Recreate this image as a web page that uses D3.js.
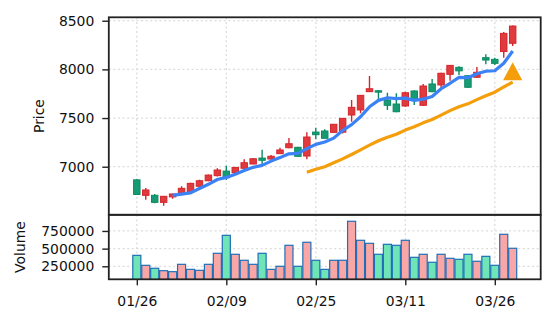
<!DOCTYPE html>
<html><head><meta charset="utf-8">
<script src="https://cdn.jsdelivr.net/npm/d3@7"></script>
<style>
html,body{margin:0;padding:0;background:#fff;}
svg{display:block;font-family:"DejaVu Sans",sans-serif;}
</style></head><body>
<svg id="chart" width="556" height="325"></svg>
<script>
// Daily trading sessions (holidays skipped)
const dates = ["2026-01-26","2026-01-27","2026-01-28","2026-01-29","2026-01-30",
  "2026-02-02","2026-02-03","2026-02-04","2026-02-05","2026-02-06",
  "2026-02-09","2026-02-10","2026-02-12","2026-02-13","2026-02-16",
  "2026-02-17","2026-02-18","2026-02-19","2026-02-20","2026-02-24",
  "2026-02-25","2026-02-26","2026-02-27","2026-03-02","2026-03-03",
  "2026-03-04","2026-03-05","2026-03-06","2026-03-09","2026-03-10",
  "2026-03-11","2026-03-12","2026-03-13","2026-03-16","2026-03-17",
  "2026-03-18","2026-03-19","2026-03-23","2026-03-24","2026-03-25",
  "2026-03-26","2026-03-27","2026-03-30"];
const opens  = [6865,6706,6706,6634,6690,6727,6743,6799,6856,6908,
  6955,6938,6984,7028,7089,7079,7134,7195,7199,7110,
  7356,7367,7353,7355,7531,7583,7771,7780,7685,7644,
  7624,7778,7631,7850,7840,7949,8021,7935,7919,8120,
  8103,8183,8268];
const highs  = [6870,6781,6720,6700,6722,6800,6835,6866,6920,6984,
  7010,6998,7076,7088,7175,7120,7195,7295,7205,7353,
  7400,7384,7440,7500,7685,7736,7932,7788,7760,7754,
  7770,7785,7850,7901,7965,8045,8031,7940,8025,8155,
  8120,8384,8450];
const lows   = [6710,6661,6625,6600,6672,6720,6738,6795,6850,6900,
  6863,6925,6980,7025,7028,7075,7130,7190,7100,7076,
  7281,7290,7350,7340,7462,7549,7771,7690,7582,7560,
  7615,7635,7625,7765,7805,7884,7941,7810,7915,8052,
  8045,8120,8240];
const closes = [6715,6761,6634,6696,6720,6778,6829,6856,6914,6966,
  6887,6993,7041,7082,7066,7107,7172,7236,7107,7305,
  7329,7292,7436,7497,7610,7733,7801,7766,7631,7565,
  7760,7685,7829,7771,7960,8041,7985,7816,7970,8096,
  8062,8370,8445];
const volumes = [405000,264000,222000,188000,174000,278000,207000,193000,278000,434000,
  688000,420000,335000,278000,434000,207000,250000,547000,250000,590000,
  335000,207000,335000,335000,887000,618000,575000,420000,561000,547000,
  618000,377000,420000,307000,420000,363000,349000,420000,321000,391000,
  264000,703000,505000];
// Signal marker (session index, price level)
const signalIdx = [42];
const signalPrice = [7980];
// Moving-average windows
const maWindows = [5, 20];
const priceTicks = [7000, 7500, 8000, 8500];
const volumeTicks = [250000, 500000, 750000];
const dateTickIdx = [0, 10, 20, 30, 40];

const n = dates.length;
const svg = d3.select("#chart");
const left = 108.8, right = 540.7;
const pTop = 17.3, pBot = 214.8, vTop = 214.8, vBot = 279.3;

const x = d3.scaleLinear().domain([-3.13, n - 1 + 3.13]).range([left, right]);
const yP = d3.scaleLinear().domain([6506, 8535]).range([pBot, pTop]);
const yV = d3.scaleLinear().domain([66100, 978600]).range([vBot, vTop]);
const parse = d3.timeParse("%Y-%m-%d"), fmt = d3.timeFormat("%m/%d");

const upStroke = "#d4252b", upFill = "#df3b3e";
const dnStroke = "#0b8a62", dnFill = "#179b72";
const volUp = "#f9a6a6", volDn = "#6fe4b6", volEdge = "#1f6fb8";
const gridColor = "#dcdcdc";
const fontSize = 13.9;

const defs = svg.append("defs");
defs.append("clipPath").attr("id", "clipP").append("rect")
  .attr("x", left).attr("y", pTop).attr("width", right - left).attr("height", pBot - pTop);
defs.append("clipPath").attr("id", "clipV").append("rect")
  .attr("x", left).attr("y", vTop).attr("width", right - left).attr("height", vBot - vTop);

// grid lines
function grid(yScale, ticks, y0, y1) {
  const g = svg.append("g").attr("stroke", gridColor).attr("stroke-width", 1.3)
    .attr("stroke-dasharray", "2,2.6");
  g.selectAll("line.h").data(ticks).join("line")
    .attr("x1", left).attr("x2", right)
    .attr("y1", d => yScale(d)).attr("y2", d => yScale(d));
  g.selectAll("line.v").data(dateTickIdx).join("line")
    .attr("x1", d => x(d)).attr("x2", d => x(d))
    .attr("y1", y0).attr("y2", y1);
}
grid(yP, priceTicks, pTop, pBot);
grid(yV, volumeTicks, vTop, vBot);

// candlesticks
const idx = d3.range(n);
const isUp = i => closes[i] >= opens[i];
const step = x(1) - x(0);
const bodyW = step * 0.72;
const cg = svg.append("g").attr("clip-path", "url(#clipP)");
cg.selectAll("line.wick").data(idx).join("line")
  .attr("x1", i => x(i)).attr("x2", i => x(i))
  .attr("y1", i => yP(highs[i])).attr("y2", i => yP(lows[i]))
  .attr("stroke", i => isUp(i) ? upStroke : dnStroke).attr("stroke-width", 1.4);
cg.selectAll("rect.body").data(idx).join("rect")
  .attr("x", i => x(i) - bodyW / 2).attr("width", bodyW)
  .attr("y", i => yP(Math.max(opens[i], closes[i])))
  .attr("height", i => Math.max(1, Math.abs(yP(opens[i]) - yP(closes[i]))))
  .attr("fill", i => isUp(i) ? upFill : dnFill)
  .attr("stroke", i => isUp(i) ? upStroke : dnStroke).attr("stroke-width", 1);

// moving averages of the close
function rolling(w) {
  return d3.range(w - 1, n).map(i => ({ i, v: d3.mean(closes.slice(i - w + 1, i + 1)) }));
}
const line = d3.line().x(d => x(d.i)).y(d => yP(d.v));
const maColors = ["#3b82f6", "#f59e0b"];
maWindows.forEach((w, k) => {
  cg.append("path").datum(rolling(w)).attr("d", line)
    .attr("fill", "none").attr("stroke", maColors[k]).attr("stroke-width", 3.2)
    .attr("stroke-linejoin", "round");
});

// signal triangles
cg.selectAll("path.sig").data(signalIdx.map((s, k) => ({ i: s, p: signalPrice[k] })))
  .join("path")
  .attr("d", d => {
    const cx = x(d.i), cy = yP(d.p), hw = 9.6, hh = 9;
    return `M${cx},${cy - hh}L${cx + hw},${cy + hh}L${cx - hw},${cy + hh}Z`;
  })
  .attr("fill", "#f59e0b");

// volume bars
const vg = svg.append("g").attr("clip-path", "url(#clipV)");
const barW = step * 0.9;
vg.selectAll("rect").data(idx).join("rect")
  .attr("x", i => x(i) - barW / 2).attr("width", barW)
  .attr("y", i => yV(volumes[i])).attr("height", i => vBot + 5 - yV(volumes[i]))
  .attr("fill", i => isUp(i) ? volUp : volDn)
  .attr("stroke", volEdge).attr("stroke-width", 1.2);

// axes
function styleAxis(g) {
  g.select(".domain").remove();
  g.selectAll(".tick line").attr("stroke", "#222").attr("stroke-width", 1.4);
  g.selectAll(".tick text").attr("fill", "#111").style("font-size", fontSize + "px")
    .style("font-family", "'DejaVu Sans', sans-serif");
}
svg.append("g").attr("transform", `translate(${left},0)`)
  .call(d3.axisLeft(yP).tickValues(priceTicks).tickSize(6.5).tickPadding(8).tickFormat(d3.format("d")))
  .call(styleAxis);
svg.append("g").attr("transform", `translate(${left},0)`)
  .call(d3.axisLeft(yV).tickValues(volumeTicks).tickSize(6.5).tickPadding(8).tickFormat(d3.format("d")))
  .call(styleAxis);
svg.append("g").attr("transform", `translate(0,${vBot})`)
  .call(d3.axisBottom(x).tickValues(dateTickIdx).tickSize(6).tickPadding(11)
    .tickFormat(i => fmt(parse(dates[i]))))
  .call(styleAxis);

// frames
[[pTop, pBot], [vTop, vBot]].forEach(([a, b]) => {
  svg.append("rect").attr("x", left).attr("y", a).attr("width", right - left).attr("height", b - a)
    .attr("fill", "none").attr("stroke", "#222").attr("stroke-width", 1.8);
});

// axis titles
svg.append("text").attr("transform", `translate(40,${(pTop + pBot) / 2}) rotate(-90)`)
  .attr("text-anchor", "middle").attr("dominant-baseline", "middle")
  .style("font-size", fontSize + "px").attr("fill", "#111").text("Price");
svg.append("text").attr("transform", `translate(20.5,${(vTop + vBot) / 2}) rotate(-90)`)
  .attr("text-anchor", "middle").attr("dominant-baseline", "middle")
  .style("font-size", fontSize + "px").attr("fill", "#111").text("Volume");
</script>
</body></html>
